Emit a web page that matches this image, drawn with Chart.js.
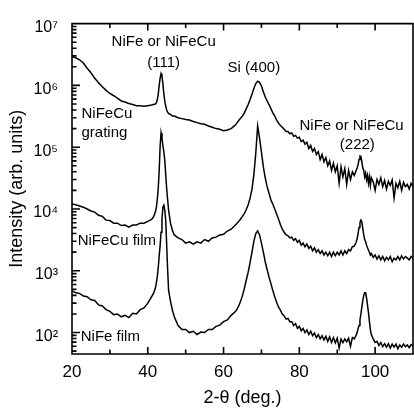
<!DOCTYPE html>
<html>
<head>
<meta charset="utf-8">
<script src="https://cdn.jsdelivr.net/npm/chart.js@4.4.1/dist/chart.umd.min.js"></script>
<style>
  html, body { margin: 0; padding: 0; background: #fff; overflow: hidden; }
  #wrap { width: 414px; height: 413px; overflow: hidden; }
</style>
</head>
<body>
<div id="wrap"><canvas id="xrd" width="421" height="413"></canvas></div>
<script>
// --- Data (2-theta in degrees, intensity in arb. units) ---
const angles = [
  20, 21, 22, 23, 24, 25, 26, 27, 28, 29, 30, 31, 32, 33, 34, 35, 36, 37, 38, 39, 40,
  41, 41.5, 42, 42.25, 42.5, 42.75, 43, 43.25, 43.5, 43.75, 44, 44.25, 44.5, 44.75, 45, 45.25, 45.5, 46, 46.5, 47,
  48, 49, 50, 51, 52, 53, 54, 55, 56, 57, 58, 59, 60, 61, 62,
  63, 63.5, 64, 64.5, 65, 65.5, 66, 66.5, 67, 67.5, 68, 68.5, 69, 69.5, 70, 70.5, 71, 71.5, 72, 72.5, 73, 73.5, 74, 74.5, 75, 75.5,
  76, 76.5, 77, 77.5, 78, 78.5, 79, 79.5, 80, 80.5, 81, 81.5, 82, 82.5, 83, 83.5, 84, 84.5, 85, 85.5,
  86, 86.5, 87, 87.5, 88, 88.5, 89, 89.5, 90, 90.5, 91, 91.5, 92, 92.5, 93, 93.5, 94, 94.5,
  95, 95.25, 95.5, 95.75, 96, 96.25, 96.5, 96.75, 97, 97.25, 97.5, 97.75, 98, 98.25, 98.5, 98.75, 99,
  99.5, 100, 100.5, 101, 101.5, 102, 102.5, 103, 103.5, 104, 104.5, 105, 105.5, 106, 106.5, 107, 107.5, 108, 108.5, 109, 109.5, 110
];

const nifecuGrating = [
  2.9e6, 2.8e6, 2.6e6, 2.3e6, 1.9e6, 1.6e6, 1.3e6, 1.1e6, 9.5e5, 8.3e5, 7.4e5, 6.8e5, 6.2e5, 5.6e5, 5.4e5, 5.1e5, 4.9e5, 4.7e5, 4.7e5, 4.6e5, 4.7e5,
  4.8e5, 4.9e5, 5.0e5, 5.2e5, 5.8e5, 7.1e5, 9.8e5, 1.3e6, 1.55e6, 1.4e6, 1.05e6, 7.2e5, 5.5e5, 4.6e5, 4.0e5, 3.7e5, 3.5e5, 3.4e5, 3.2e5, 3.2e5,
  3.0e5, 2.9e5, 2.8e5, 2.75e5, 2.6e5, 2.5e5, 2.4e5, 2.35e5, 2.2e5, 2.1e5, 2.0e5, 1.95e5, 1.85e5, 1.9e5, 2.0e5,
  2.25e5, 2.45e5, 2.7e5, 2.95e5, 3.2e5, 3.6e5, 4.2e5, 4.9e5, 5.9e5, 7.2e5, 8.9e5, 1.07e6, 1.17e6, 1.12e6, 9.8e5, 7.9e5, 6.5e5, 5.6e5, 4.9e5, 4.2e5, 3.6e5, 3.2e5, 2.75e5, 2.45e5, 2.25e5, 2.1e5,
  1.95e5, 1.8e5, 1.8e5, 1.65e5, 1.7e5, 1.5e5, 1.55e5, 1.4e5, 1.45e5, 1.23e5, 1.3e5, 1.12e5, 1.2e5, 9.5e4, 1.07e5, 8.5e4, 9.5e4, 7.6e4, 8.5e4, 6.3e4,
  7.6e4, 5.8e4, 6.8e4, 5.0e4, 6.0e4, 4.2e4, 5.5e4, 4.0e4, 5.0e4, 2.6e4, 4.8e4, 3.3e4, 4.5e4, 2.5e4, 4.2e4, 3.0e4, 4.0e4, 3.5e4,
  4.2e4, 4.6e4, 5.2e4, 6.3e4, 7.2e4, 7.1e4, 5.8e4, 4.6e4, 4.2e4, 3.3e4, 3.8e4, 2.95e4, 3.5e4, 2.6e4, 3.3e4, 2.4e4, 3.2e4,
  2.75e4, 2.0e4, 3.0e4, 2.5e4, 3.2e4, 2.3e4, 2.9e4, 2.1e4, 2.8e4, 2.4e4, 2.95e4, 1.5e4, 2.6e4, 2.2e4, 2.8e4, 2.0e4, 2.7e4, 2.3e4, 2.5e4, 2.1e4, 2.6e4, 2.3e4
];

const nifecuFilm = [
  1.2e4, 1.17e4, 1.12e4, 1.07e4, 1.0e4, 9.3e3, 8.9e3, 7.9e3, 7.6e3, 6.6e3, 6.5e3, 5.9e3, 5.9e3, 5.4e3, 5.5e3, 5.1e3, 5.5e3, 5.5e3, 5.9e3, 5.9e3, 6.3e3,
  6.8e3, 7.4e3, 8.9e3, 1.05e4, 1.4e4, 2.1e4, 4.0e4, 1.0e5, 1.7e5, 1.4e5, 1.05e5, 8.3e4, 6.0e4, 3.5e4, 2.1e4, 1.4e4, 9.5e3, 5.9e3, 4.5e3, 3.8e3,
  3.4e3, 3.2e3, 2.8e3, 2.95e3, 2.7e3, 2.95e3, 2.8e3, 3.2e3, 3.0e3, 3.4e3, 3.5e3, 3.8e3, 3.9e3, 4.4e3, 4.7e3,
  5.4e3, 5.8e3, 6.3e3, 6.9e3, 7.6e3, 8.5e3, 9.8e3, 1.17e4, 1.5e4, 2.1e4, 3.6e4, 7.9e4, 2.2e5, 1.4e5, 8.3e4, 4.8e4, 3.2e4, 2.3e4, 1.8e4, 1.4e4, 1.2e4, 1.0e4, 8.3e3, 6.9e3, 5.6e3, 4.7e3,
  4.2e3, 3.8e3, 3.7e3, 3.4e3, 3.5e3, 3.1e3, 3.3e3, 2.9e3, 3.1e3, 2.6e3, 2.8e3, 2.45e3, 2.7e3, 2.3e3, 2.5e3, 2.1e3, 2.35e3, 2.0e3, 2.2e3, 1.9e3,
  2.1e3, 1.8e3, 2.0e3, 1.75e3, 2.0e3, 1.7e3, 2.0e3, 1.75e3, 2.0e3, 1.8e3, 2.1e3, 1.8e3, 2.1e3, 1.9e3, 2.2e3, 2.1e3, 2.45e3, 2.5e3,
  2.9e3, 3.3e3, 4.0e3, 5.0e3, 6.0e3, 6.6e3, 6.2e3, 4.8e3, 3.8e3, 3.2e3, 2.95e3, 2.6e3, 2.35e3, 2.15e3, 2.0e3, 1.8e3, 1.9e3,
  1.65e3, 1.8e3, 1.55e3, 1.75e3, 1.5e3, 1.7e3, 1.45e3, 1.65e3, 1.5e3, 1.7e3, 1.4e3, 1.6e3, 1.5e3, 1.7e3, 1.5e3, 1.75e3, 1.55e3, 1.7e3, 1.6e3, 1.5e3, 1.7e3, 1.6e3
];

const nifeFilm = [
  470, 440, 430, 390, 380, 340, 330, 280, 270, 235, 220, 195, 200, 180, 190, 175, 205, 200, 235, 250, 300,
  380, 430, 520, 630, 790, 1100, 1700, 2500, 4200, 7100, 1.07e4, 1.15e4, 9.5e3, 6.3e3, 2.5e3, 1000, 480, 320, 230, 180,
  130, 112, 112, 100, 105, 93, 102, 100, 112, 112, 126, 132, 150, 160, 190,
  215, 235, 270, 320, 400, 520, 710, 950, 1350, 2000, 3000, 4000, 4400, 3800, 2800, 2000, 1400, 1050, 790, 620, 480, 380, 310, 260, 230, 200,
  185, 165, 170, 150, 150, 130, 140, 117, 126, 107, 117, 100, 110, 93, 105, 89, 98, 83, 93, 79,
  89, 76, 87, 72, 85, 69, 83, 68, 81, 56, 79, 69, 79, 71, 81, 60, 83, 79,
  91, 100, 115, 130, 160, 200, 260, 330, 400, 440, 440, 360, 275, 210, 150, 112, 93,
  79, 69, 72, 62, 69, 59, 66, 58, 66, 56, 65, 58, 65, 55, 63, 58, 65, 59, 63, 57, 64, 60
];

// axis ticks and labels
const xTicks = [20, 30, 40, 50, 60, 70, 80, 90, 100, 110];
const xMajorTicks = [20, 40, 60, 80, 100];
const xTickLabels = ['20', '40', '60', '80', '100'];
const yMajorTicks = [1e2, 1e3, 1e4, 1e5, 1e6, 1e7];
const yTickLabels = ['10²', '10³', '10⁴', '10⁵', '10⁶', '10⁷'];

// text written inside the plot (x in degrees, y in intensity)
const notes = [
  { text: 'NiFe or NiFeCu', x: 44.2, y: 5.0e6, align: 'center' },
  { text: '(111)', x: 44.2, y: 2.33e6, align: 'center' },
  { text: 'Si (400)', x: 68.0, y: 1.94e6, align: 'center' },
  { text: 'NiFe or NiFeCu', x: 93.8, y: 2.18e5, align: 'center' },
  { text: '(222)', x: 95.3, y: 1.09e5, align: 'center' },
  { text: 'NiFeCu', x: 22.5, y: 3.4e5, align: 'left' },
  { text: 'grating', x: 22.5, y: 1.69e5, align: 'left' },
  { text: 'NiFeCu film', x: 21.5, y: 3.07e3, align: 'left' },
  { text: 'NiFe film', x: 22.3, y: 86, align: 'left' }
];

const FONT = '"Liberation Sans", Arial, Helvetica, sans-serif';
Chart.defaults.font.family = FONT;
Chart.defaults.color = '#000';

function series(values) {
  return values.map((v, i) => ({ x: angles[i], y: v }));
}

// inward tick marks, frame and labels drawn over the plot
const framePlugin = {
  id: 'frame',
  afterDatasetsDraw(chart) {
    const { ctx, chartArea: a, scales: { x, y } } = chart;
    ctx.save();
    ctx.strokeStyle = '#000';
    ctx.lineWidth = 1.6;
    ctx.beginPath();
    ctx.moveTo(a.left, a.top);
    ctx.lineTo(a.left, a.bottom);
    ctx.lineTo(a.right, a.bottom);
    ctx.lineTo(a.right, a.top);
    ctx.closePath();
    y.ticks.forEach(t => {
      const py = y.getPixelForValue(t.value);
      const len = t.major ? 8 : 4.5;
      ctx.moveTo(a.left, py);
      ctx.lineTo(a.left + len, py);
    });
    x.ticks.forEach(t => {
      const px = x.getPixelForValue(t.value);
      const len = xMajorTicks.includes(t.value) ? 7 : 4.5;
      ctx.moveTo(px, a.bottom);
      ctx.lineTo(px, a.bottom - len);
      ctx.moveTo(px, a.top);
      ctx.lineTo(px, a.top + len);
    });
    ctx.stroke();

    ctx.fillStyle = '#000';
    ctx.font = '15px ' + FONT;
    ctx.textBaseline = 'middle';
    notes.forEach(n => {
      ctx.textAlign = n.align;
      ctx.fillText(n.text, x.getPixelForValue(n.x), y.getPixelForValue(n.y));
    });
    ctx.restore();
  }
};

const lineStyle = {
  borderColor: '#000',
  borderWidth: 1.5,
  pointRadius: 0,
  fill: false,
  tension: 0
};

new Chart(document.getElementById('xrd'), {
  type: 'line',
  data: {
    datasets: [
      { label: 'NiFeCu grating', data: series(nifecuGrating), ...lineStyle },
      { label: 'NiFeCu film', data: series(nifecuFilm), ...lineStyle },
      { label: 'NiFe film', data: series(nifeFilm), ...lineStyle }
    ]
  },
  options: {
    responsive: false,
    animation: false,
    layout: { padding: { top: 16, right: 0, left: 0, bottom: 0 } },
    plugins: { legend: { display: false }, tooltip: { enabled: false } },
    scales: {
      x: {
        type: 'linear',
        min: 20,
        max: 110,
        grid: { display: false, drawTicks: false },
        border: { display: false },
        afterBuildTicks: s => { s.ticks = xTicks.map(v => ({ value: v })); },
        afterFit: s => { s.height = 59; },
        ticks: {
          autoSkip: false,
          maxRotation: 0,
          padding: 8,
          font: { size: 17 },
          callback: v => {
            const i = xMajorTicks.indexOf(v);
            return i >= 0 ? xTickLabels[i] : '';
          }
        },
        title: {
          display: true,
          text: '2-θ (deg.)',
          font: { size: 18 },
          padding: { top: 0, bottom: 4 }
        }
      },
      y: {
        type: 'logarithmic',
        min: 45,
        max: 1e7,
        grid: { display: false, drawTicks: false },
        border: { display: false },
        afterBuildTicks: s => {
          const t = [];
          for (let e = 1; e <= 7; e++) {
            for (let m = 1; m <= 9; m++) {
              const v = m * Math.pow(10, e);
              if (v >= 45 && v <= 1e7) t.push({ value: v, major: m === 1 });
            }
          }
          s.ticks = t;
        },
        afterFit: s => { s.width = 72; },
        ticks: {
          autoSkip: false,
          padding: 14,
          labelOffset: 4,
          font: { size: 16 },
          callback: v => {
            const i = yMajorTicks.indexOf(v);
            return i >= 0 ? yTickLabels[i] : '';
          }
        },
        title: {
          display: true,
          text: 'Intensity (arb. units)',
          font: { size: 18 },
          padding: { top: 6, bottom: 0 }
        }
      }
    }
  },
  plugins: [framePlugin]
});
</script>
</body>
</html>
